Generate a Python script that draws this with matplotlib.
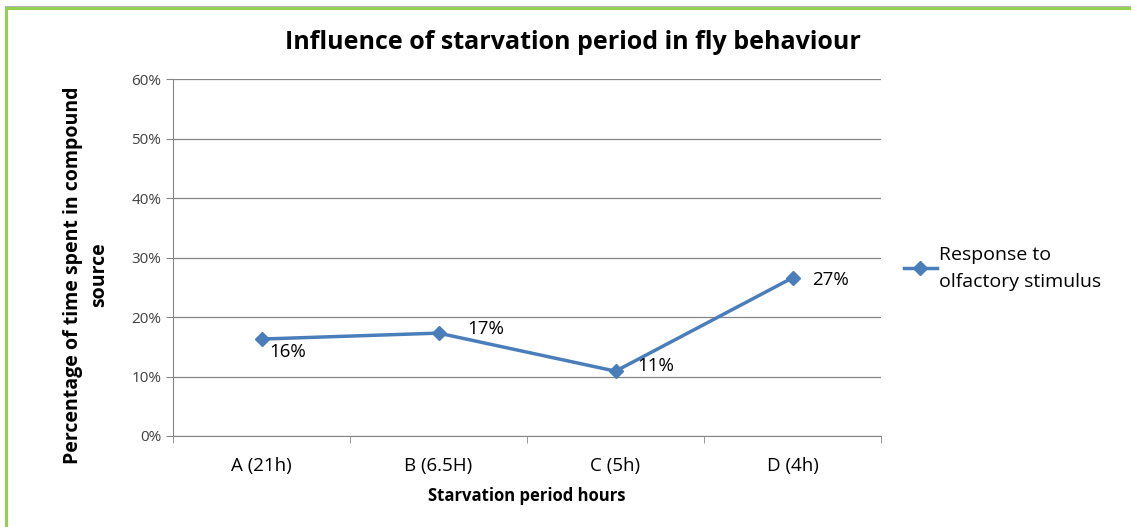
import matplotlib.pyplot as plt
from matplotlib.patches import Rectangle
from matplotlib.ticker import FuncFormatter, MultipleLocator

# Data
categories = ["A (21h)", "B (6.5H)", "C (5h)", "D (4h)"]
values = [0.163, 0.173, 0.109, 0.266]
labels = ["16%", "17%", "11%", "27%"]

plt.rcParams['font.family'] = ['Open Sans', 'DejaVu Sans']

fig = plt.figure(figsize=(11.31, 5.27), dpi=100)
ax = fig.add_axes([0.153, 0.1727, 0.626, 0.677])

# green chart border (partly cut off like the screenshot)
fig.patches.append(Rectangle((0.0052, -0.05), 1.2, 1.037, transform=fig.transFigure,
                             fill=False, edgecolor="#A6A6A6", linewidth=1.2))
fig.patches.append(Rectangle((0.0053, -0.05), 1.2, 1.035, transform=fig.transFigure,
                             fill=False, edgecolor="#92D050", linewidth=2.2))

line_color = "#4A7EBB"
x = list(range(len(categories)))
ax.plot(x, values, color=line_color, linewidth=2.5, marker="D", markersize=7,
        label="Response to\nolfactory stimulus")

offsets = [(19, -9.5), (34, 3), (29, 4), (27, -1.5)]
for xi, v, lab, (dx, dy) in zip(x, values, labels, offsets):
    ax.annotate(lab, (xi, v), xytext=(dx, dy), textcoords="offset points",
                ha="center", va="center", fontsize=13.5)

ax.set_xlim(-0.5, 3.5)
ax.set_ylim(0, 0.6)
ax.yaxis.set_major_locator(MultipleLocator(0.1))
ax.yaxis.set_major_formatter(FuncFormatter(lambda v, p: "%d%%" % round(v * 100)))
ax.set_xticks(x)
ax.set_xticklabels(categories, fontsize=13.5)
ax.set_xticks([-0.5, 0.5, 1.5, 2.5, 3.5], minor=True)
ax.tick_params(axis="x", which="major", length=0, pad=15)
ax.tick_params(axis="x", which="minor", length=5, color="#868686")
ax.tick_params(axis="y", length=5, color="#868686", labelsize=11, labelcolor="#404040")

ax.grid(axis="y", color="#868686", linewidth=0.9)
ax.set_axisbelow(True)
for s in ["top", "right"]:
    ax.spines[s].set_visible(False)
for s in ["left", "bottom"]:
    ax.spines[s].set_color("#868686")

fig.text(0.507, 0.92, "Influence of starvation period in fly behaviour", fontsize=18,
         fontweight="bold", ha="center", va="center")
ax.set_xlabel("Starvation period hours", fontsize=12, fontweight="bold", labelpad=9)
fig.text(0.076, 0.478, "Percentage of time spent in compound\nsource", fontsize=14,
         fontweight="bold", rotation=90, ha="center", va="center",
         multialignment="center", linespacing=1.45)

leg = ax.legend(loc="center left", bbox_to_anchor=(1.007, 0.47), frameon=False,
                fontsize=14, handlelength=1.7, handletextpad=0.1)
for t in leg.get_texts():
    t.set_linespacing(1.6)

plt.savefig("out.png", dpi=100)
